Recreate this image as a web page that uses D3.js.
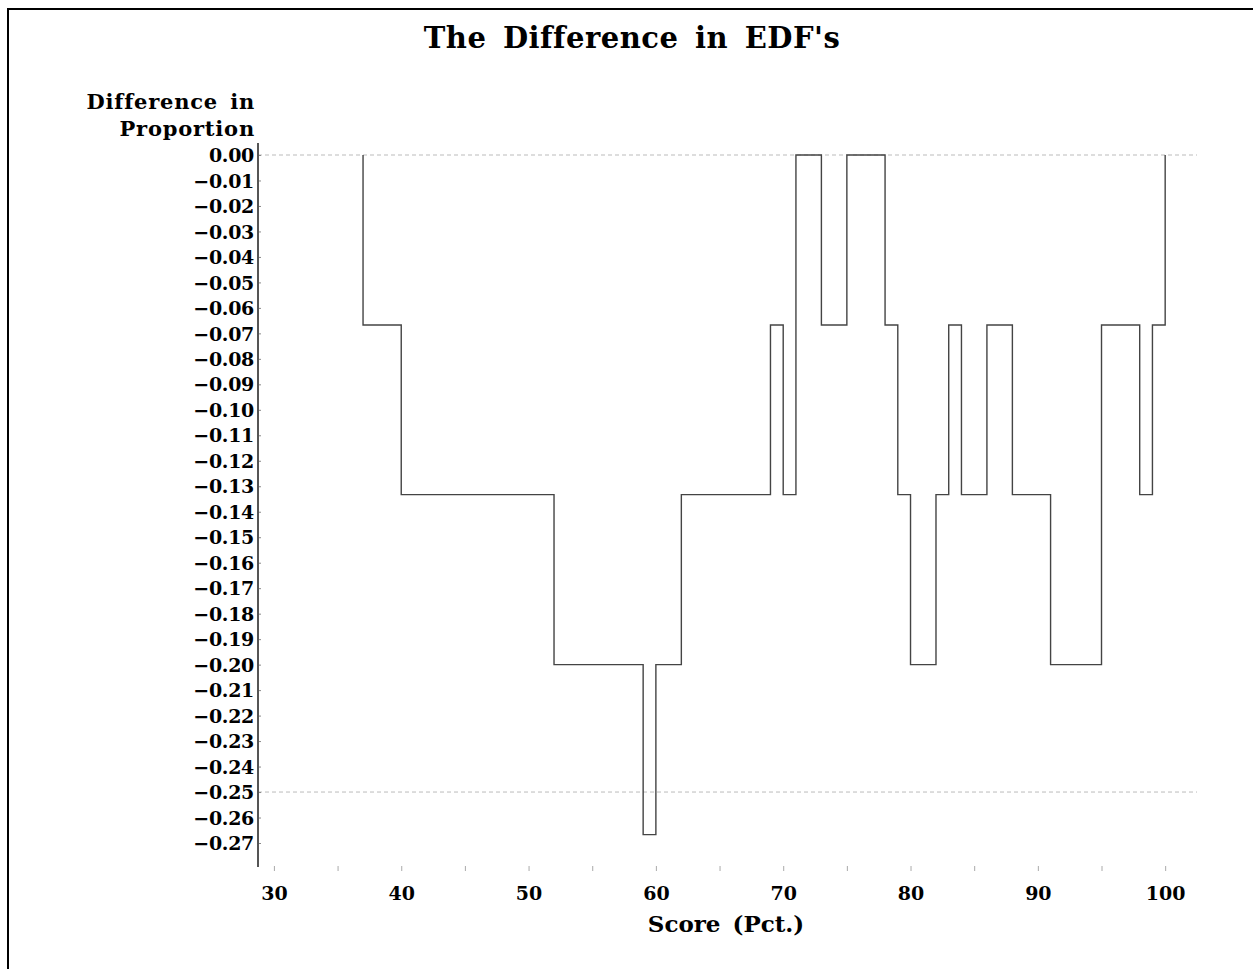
<!DOCTYPE html>
<html>
<head>
<meta charset="utf-8">
<script src="https://cdn.jsdelivr.net/npm/d3@7"></script>
<style>
  body { margin: 0; background: #fff; }
  text { font-family: "DejaVu Serif", serif; font-weight: bold; fill: #000; }
</style>
</head>
<body>
<div id="chart-area"></div>
<script>
// score where the EDF difference steps, and the difference right after it
const scores = [37, 40, 52, 59, 60, 62, 69, 70, 71, 73, 75, 78, 79, 80, 82, 83, 84, 86, 88, 91, 95, 98, 99, 100];
const diffs = [-0.0667, -0.1333, -0.2, -0.2667, -0.2, -0.1333, -0.0667, -0.1333, 0, -0.0667, 0, -0.0667,
  -0.1333, -0.2, -0.1333, -0.0667, -0.1333, -0.0667, -0.1333, -0.2, -0.0667, -0.1333, -0.0667, 0];
const startScore = 37;
const yTicks = d3.range(0, 28).map(i => -i / 100);
const xTicks = d3.range(30, 101, 5);
const refLines = [0, -0.25];

const widthSvg = 1253;
const heightSvg = 969;

const svg = d3.select('#chart-area').append('svg')
  .attr('width', widthSvg)
  .attr('height', heightSvg);

// frame (only top and left edges are inside the picture)
svg.append('path')
  .attr('d', `M8,${heightSvg} L8,9 L${widthSvg},9`)
  .attr('fill', 'none')
  .attr('stroke', '#000')
  .attr('stroke-width', 2);

const x = d3.scaleLinear().domain([28.75, 102.5]).range([258, 1197]);
const y = d3.scaleLinear().domain([0, -0.27]).range([155, 843]);

// title
svg.append('text')
  .text("The Difference in EDF's")
  .attr('x', 632).attr('y', 48)
  .attr('text-anchor', 'middle')
  .attr('font-size', '29px')
  .attr('letter-spacing', '0.5px')
  .attr('word-spacing', '6px');

// y label
const labelY = svg.append('text')
  .attr('text-anchor', 'end')
  .attr('font-size', '21px')
  .attr('letter-spacing', '0.8px');
labelY.append('tspan').text('Difference in').attr('x', 255).attr('y', 109).attr('word-spacing', '4px');
labelY.append('tspan').text('Proportion').attr('x', 255).attr('y', 136);

// reference lines
svg.selectAll('.ref')
  .data(refLines)
  .enter().append('line')
    .attr('class', 'ref')
    .attr('x1', x.range()[0]).attr('x2', x.range()[1])
    .attr('y1', d => y(d)).attr('y2', d => y(d))
    .attr('stroke', '#bbb')
    .attr('stroke-width', 1)
    .attr('stroke-dasharray', '4,3');

// y axis
const axisY = d3.axisLeft(y)
  .tickValues(yTicks)
  .tickSize(-3)
  .tickPadding(4)
  .tickFormat(d => d === 0 ? '0.00' : '\u2212' + d3.format('.2f')(-d));

const axisGroupY = svg.append('g')
  .attr('transform', 'translate(258, 0)')
  .call(axisY);
axisGroupY.select('.domain').remove();
axisGroupY.selectAll('line').attr('stroke', '#888');
axisGroupY.selectAll('text')
  .attr('font-family', '"DejaVu Serif", serif')
  .attr('font-size', '19px')
  .attr('font-weight', 'bold')
  .attr('letter-spacing', '-0.3px')
  .attr('dy', '0.35em');
axisGroupY.append('line')
  .attr('x1', 0).attr('x2', 0)
  .attr('y1', 143).attr('y2', 867)
  .attr('stroke', '#555')
  .attr('stroke-width', 2);

// x axis
const axisX = d3.axisBottom(x)
  .tickValues(xTicks)
  .tickSize(5)
  .tickPadding(16)
  .tickFormat(d => d % 10 === 0 ? d : '');

const axisGroupX = svg.append('g')
  .attr('transform', 'translate(0, 866)')
  .call(axisX);
axisGroupX.select('.domain').remove();
axisGroupX.selectAll('line').attr('stroke', '#aaa');
axisGroupX.selectAll('text')
  .attr('font-family', '"DejaVu Serif", serif')
  .attr('font-size', '19px')
  .attr('font-weight', 'bold');

svg.append('text')
  .text('Score (Pct.)')
  .attr('x', 726).attr('y', 932)
  .attr('text-anchor', 'middle')
  .attr('font-size', '23px')
  .attr('word-spacing', '4px');

// step line
const points = [{ s: startScore, v: 0 }].concat(scores.map((s, i) => ({ s, v: diffs[i] })));

const line = d3.line()
  .x(d => x(d.s))
  .y(d => y(d.v))
  .curve(d3.curveStepAfter);

svg.append('path')
  .datum(points)
  .attr('d', line)
  .attr('fill', 'none')
  .attr('stroke', '#444')
  .attr('stroke-width', 1.4);
</script>
</body>
</html>
